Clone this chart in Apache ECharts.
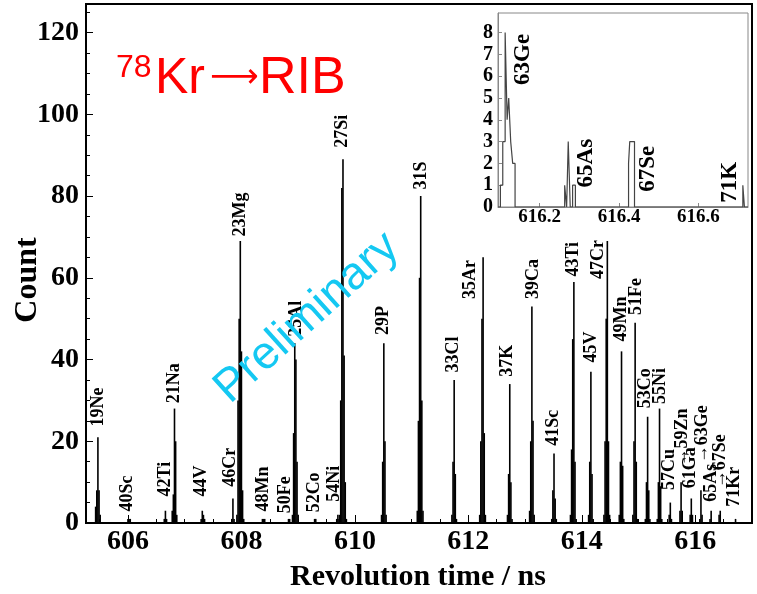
<!DOCTYPE html>
<html>
<head>
<meta charset="utf-8">
<script src="https://cdn.jsdelivr.net/npm/echarts@6/dist/echarts.min.js"></script>
<style>
  html, body { margin: 0; padding: 0; background: #fff; }
  #main { width: 757px; height: 594px; }
</style>
</head>
<body>
<div id="main"></div>
<script>
// main spectrum: [revolution time (ns), count] for each histogram bin
let mainBins = [
    // 19Ne
    [605.43, 4], [605.45, 8], [605.47, 21], [605.49, 8], [605.51, 2],
    // 40Sc
    [606.00, 1], [606.02, 1], [606.04, 1],
    // 42Ti
    [606.64, 1], [606.66, 3], [606.68, 1],
    // 21Na
    [606.78, 3], [606.80, 7], [606.82, 28], [606.84, 20], [606.86, 2],
    // 44V
    [607.29, 1], [607.31, 3], [607.33, 2], [607.35, 1],
    // 46Cr
    [607.83, 1], [607.85, 6], [607.87, 1],
    // 23Mg
    [607.92, 2], [607.94, 30], [607.96, 50], [607.98, 69], [608.00, 42], [608.02, 8], [608.04, 1],
    // 48Mn
    [608.37, 1], [608.39, 1], [608.41, 1],
    // 50Fe
    [608.83, 1], [608.85, 1],
    // 25Al
    [608.90, 2], [608.92, 22], [608.94, 44], [608.96, 40], [608.98, 15], [609.00, 2],
    // 52Co
    [609.29, 1], [609.31, 1],
    // 54Ni
    [609.68, 1], [609.70, 2], [609.72, 1],
    // 27Si
    [609.73, 2], [609.75, 30], [609.77, 82], [609.79, 89], [609.81, 41], [609.83, 10], [609.85, 1],
    // 29P
    [610.47, 2], [610.49, 15], [610.51, 44], [610.53, 20], [610.55, 2],
    // 31S
    [611.10, 3], [611.12, 25], [611.14, 60], [611.16, 80], [611.18, 30], [611.20, 3],
    // 33Cl
    [611.71, 2], [611.73, 15], [611.75, 35], [611.77, 12], [611.79, 1],
    // 35Ar
    [612.20, 2], [612.22, 20], [612.24, 50], [612.26, 65], [612.28, 22], [612.30, 2],
    // 37K
    [612.69, 2], [612.71, 12], [612.73, 34], [612.75, 10], [612.77, 1],
    // 39Ca
    [613.08, 3], [613.10, 20], [613.12, 53], [613.14, 25], [613.16, 2],
    // 41Sc
    [613.47, 1], [613.49, 8], [613.51, 17], [613.53, 6], [613.55, 1],
    // 43Ti
    [613.80, 2], [613.82, 18], [613.84, 45], [613.86, 59], [613.88, 15], [613.90, 1],
    // 45V
    [614.12, 2], [614.14, 15], [614.16, 37], [614.18, 12], [614.20, 1],
    // 47Cr
    [614.39, 2], [614.41, 20], [614.43, 50], [614.45, 69], [614.47, 20], [614.49, 2],
    // 49Mn
    [614.66, 2], [614.68, 15], [614.70, 42], [614.72, 14], [614.74, 1],
    // 51Fe
    [614.90, 2], [614.92, 20], [614.94, 49], [614.96, 15], [614.98, 1],
    // 53Co
    [615.12, 1], [615.14, 10], [615.16, 26], [615.18, 8], [615.20, 1],
    // 55Ni
    [615.33, 1], [615.35, 10], [615.37, 28], [615.39, 9], [615.41, 1],
    // 57Cu
    [615.54, 2], [615.56, 5], [615.58, 1],
    // 59Zn
    [615.73, 3], [615.75, 10], [615.77, 3],
    // 61Ga
    [615.91, 2], [615.93, 6], [615.95, 2],
    // 63Ge
    [616.08, 1], [616.10, 8], [616.12, 2],
    // 65As
    [616.26, 1], [616.28, 3],
    // 67Se
    [616.42, 2], [616.44, 3],
    // 71Kr
    [616.71, 1]
];

// peak labels: [text, time, count] where the rotated label starts
let peakLabels = [
    ["19Ne", 605.47, 23.6], ["40Sc", 605.98, 2.8], ["42Ti", 606.66, 6.5],
    ["21Na", 606.82, 29.3], ["44V", 607.30, 6.5], ["46Cr", 607.80, 8.9],
    ["23Mg", 607.98, 70.1], ["48Mn", 608.38, 2.8], ["50Fe", 608.78, 2.4],
    ["25Al", 608.96, 45.6], ["52Co", 609.28, 2.6], ["54Ni", 609.63, 5.2],
    ["27Si", 609.78, 91.8], ["29P", 610.51, 46.0], ["31S", 611.17, 81.6],
    ["33Cl", 611.73, 36.8], ["35Ar", 612.03, 54.8], ["37K", 612.68, 35.8],
    ["39Ca", 613.14, 54.8], ["41Sc", 613.49, 18.9], ["43Ti", 613.85, 60.3],
    ["45V", 614.16, 39.3], ["47Cr", 614.30, 59.7], ["49Mn", 614.69, 44.4],
    ["51Fe", 614.96, 50.9], ["53Co", 615.12, 28.1], ["55Ni", 615.38, 29.1],
    ["57Cu", 615.54, 8.1], ["\u219259Zn", 615.77, 13.8], ["61Ga", 615.92, 8.5],
    ["\u219263Ge", 616.12, 14.6], ["65As", 616.28, 5.2], ["\u219267Se", 616.45, 8.5],
    ["71Kr", 616.69, 4.0]
];

// inset (zoom of the heavy end): [bin left edge (ns), count]
let insetBins = [
    [616.095, 0], [616.101, 1], [616.107, 3], [616.113, 8], [616.118, 4],
    [616.122, 5], [616.127, 3], [616.132, 2], [616.138, 0],
    [616.263, 1], [616.268, 0], [616.272, 3], [616.277, 0],
    [616.283, 1], [616.290, 0],
    [616.424, 2], [616.427, 3], [616.439, 0],
    [616.712, 1], [616.716, 0], [616.725, 0]
];

let insetLabels = [
    ["63Ge", 616.159, 5.6], ["65As", 616.318, 0.9],
    ["67Se", 616.473, 0.7], ["71K", 616.681, 0.2]
];

let mainTicks = [606, 608, 610, 612, 614, 616];
let insetTicks = [616.2, 616.4, 616.6];
let insetYTicks = [0, 1, 2, 3, 4, 5, 6, 7, 8];

let minorTicks = [];
for (let t = 605.5; t <= 617; t += 0.5) {
    if (mainTicks.indexOf(t) < 0) minorTicks.push(t);
}

let serif = "Liberation Serif";

function rotatedLabels(list, size) {
    return function (params, api) {
        let p = api.coord([api.value(0), api.value(1)]);
        return {
            type: "text",
            x: p[0],
            y: p[1],
            rotation: Math.PI / 2,
            style: {
                text: list[params.dataIndex][0],
                fontFamily: serif,
                fontWeight: "bold",
                fontSize: size,
                fill: "#000",
                align: "left",
                verticalAlign: "middle"
            }
        };
    };
}

let myChart = echarts.init(document.getElementById("main"), null, { renderer: "canvas" });

let option = {
    animation: false,
    backgroundColor: "#fff",
    grid: [
        { left: 86, top: 4, right: 5, bottom: 71, show: true, borderColor: "#000", borderWidth: 2 },
        { left: 498, top: 13, right: 9, bottom: 387, show: true,
          backgroundColor: "#fff", borderColor: "#888", borderWidth: 1 }
    ],
    xAxis: [
        {
            type: "value", gridIndex: 0, min: 605.26, max: 617.0,
            splitLine: { show: false },
            axisLine: { lineStyle: { color: "#000", width: 2 } },
            axisTick: { inside: true, length: 8, customValues: mainTicks, lineStyle: { color: "#000", width: 1 } },
            axisLabel: { customValues: mainTicks, color: "#000", fontFamily: serif, fontWeight: "bold", fontSize: 28, margin: 5 }
        },
        {
            type: "value", gridIndex: 0, min: 605.26, max: 617.0, position: "bottom",
            splitLine: { show: false },
            axisLine: { show: false },
            axisLabel: { show: false },
            axisTick: { inside: true, length: 4, customValues: minorTicks, lineStyle: { color: "#000", width: 1 } }
        },
        {
            type: "value", gridIndex: 1, min: 616.095, max: 616.725,
            splitLine: { show: false },
            axisLine: { lineStyle: { color: "#888", width: 1 } },
            axisTick: { inside: true, length: 4, customValues: insetTicks, lineStyle: { color: "#888" } },
            axisLabel: { customValues: insetTicks, color: "#000", fontFamily: serif, fontWeight: "bold", fontSize: 19, margin: 1 }
        }
    ],
    yAxis: [
        {
            type: "value", gridIndex: 0, min: 0, max: 127, interval: 20,
            splitLine: { show: false },
            axisLine: { show: true, lineStyle: { color: "#000", width: 2 } },
            axisTick: { inside: true, length: 7, lineStyle: { color: "#000" } },
            minorTick: { show: true, splitNumber: 4, length: 4, lineStyle: { color: "#000" } },
            axisLabel: { color: "#000", fontFamily: serif, fontWeight: "bold", fontSize: 28, margin: 7, showMaxLabel: false }
        },
        {
            type: "value", gridIndex: 1, min: 0, max: 8.9, interval: 1,
            splitLine: { show: false },
            axisLine: { show: true, lineStyle: { color: "#888", width: 1 } },
            axisTick: { inside: true, length: 4, customValues: insetYTicks, lineStyle: { color: "#888" } },
            axisLabel: { customValues: insetYTicks, color: "#000", fontFamily: serif, fontWeight: "bold", fontSize: 20, margin: 5 }
        }
    ],
    series: [
        {
            type: "bar",
            xAxisIndex: 0, yAxisIndex: 0,
            barWidth: 1.6,
            itemStyle: { color: "#000" },
            data: mainBins
        },
        {
            type: "custom",
            xAxisIndex: 0, yAxisIndex: 0,
            renderItem: rotatedLabels(peakLabels, 18),
            data: peakLabels.map((d) => [d[1], d[2]]),
            z: 5
        },
        {
            type: "line",
            xAxisIndex: 2, yAxisIndex: 1,
            step: "end",
            symbol: "none",
            lineStyle: { color: "#444", width: 1.2 },
            data: insetBins,
            z: 6
        },
        {
            type: "custom",
            xAxisIndex: 2, yAxisIndex: 1,
            renderItem: rotatedLabels(insetLabels, 23),
            data: insetLabels.map((d) => [d[1], d[2]]),
            z: 6
        }
    ],
    graphic: [
        { type: "text", x: 116, y: 68, style: { text: "78", fill: "#f00", fontFamily: "Liberation Sans", fontSize: 32, verticalAlign: "middle" } },
        { type: "text", x: 155, y: 79, style: { text: "Kr", fill: "#f00", fontFamily: "Liberation Sans", fontSize: 50, verticalAlign: "middle" } },
        { type: "text", x: 210, y: 78, style: { text: "\u27F6", fill: "#f00", fontFamily: "DejaVu Sans", fontSize: 34, verticalAlign: "middle" } },
        { type: "text", x: 259, y: 79, style: { text: "RIB", fill: "#f00", fontFamily: "Liberation Sans", fontSize: 52, verticalAlign: "middle" } },
        { type: "text", x: 307, y: 318, rotation: 42 * Math.PI / 180, z: 20,
          style: { text: "Preliminary", fill: "#14C8F2", fontFamily: "Liberation Sans", fontSize: 46, align: "center", verticalAlign: "middle" } },
        { type: "text", x: 28, y: 280, rotation: Math.PI / 2,
          style: { text: "Count", fill: "#000", fontFamily: serif, fontWeight: "bold", fontSize: 32, align: "center", verticalAlign: "middle" } },
        { type: "text", x: 418, y: 577,
          style: { text: "Revolution time / ns", fill: "#000", fontFamily: serif, fontWeight: "bold", fontSize: 30, align: "center", verticalAlign: "middle" } }
    ]
};

myChart.setOption(option);
</script>
</body>
</html>
